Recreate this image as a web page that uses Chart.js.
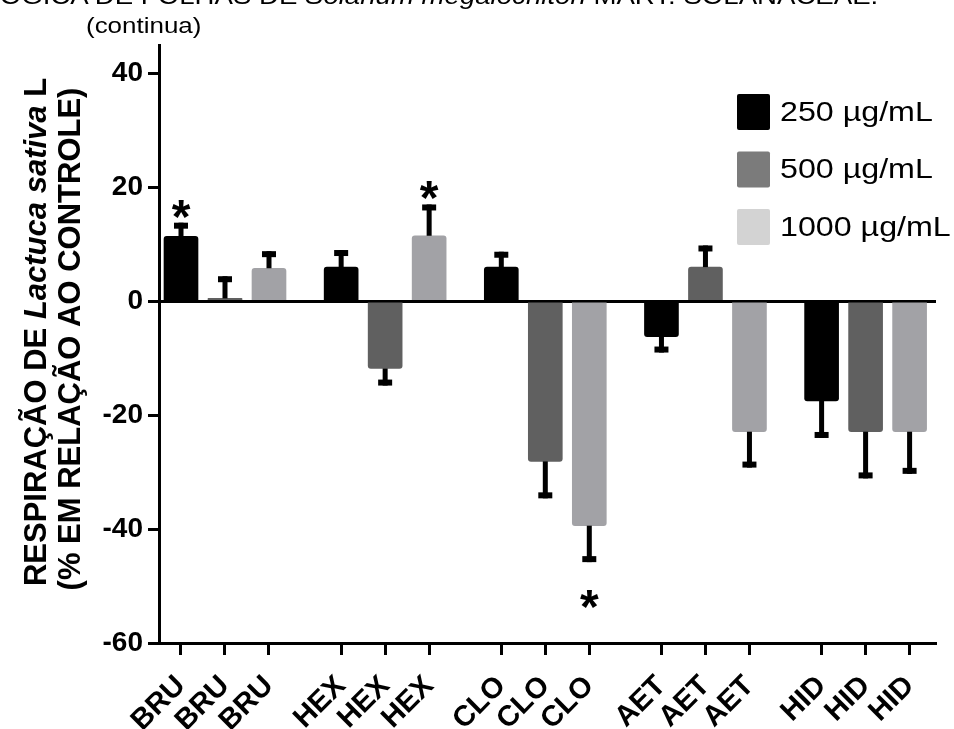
<!DOCTYPE html>
<html>
<head>
<meta charset="utf-8">
<script src="https://cdn.jsdelivr.net/npm/chart.js@4.4.1/dist/chart.umd.min.js"></script>
<style>
  body { margin: 0; background: #fff; overflow: hidden; }
  #wrap { position: relative; width: 954px; height: 729px; }
  .txt { position: absolute; font-family: "Liberation Sans", Arial, sans-serif; color: #000; white-space: nowrap; line-height: 1; }
  #top1 { right: 76px; top: -16px; font-size: 24px; transform: scaleX(1.15); transform-origin: right top; }
  #top2 { left: 86px; top: 15px; font-size: 22px; transform: scaleX(1.18); transform-origin: left top; }
</style>
</head>
<body>
<div id="wrap">
  <canvas id="myChart"></canvas>
  <div class="txt" id="top1">LÓGICA DE FOLHAS DE <i>Solanum megalochiton</i> MART. SOLANACEAE.</div>
  <div class="txt" id="top2">(continua)</div>
</div>
<script>
// data
const groups = ['BRU', 'HEX', 'CLO', 'AET', 'HID'];
const seriesLabels = ['250 µg/mL', '500 µg/mL', '1000 µg/mL'];
const v250 = [11.4, 6.0, 6.0, -6.2, -17.5];
const v500 = [0.5, -11.8, -28.1, 6.0, -22.9];
const v1000 = [5.8, 11.5, -39.4, -22.9, -22.9];
const e250 = [2.4, 3.0, 2.7, 2.8, 6.5];
const e500 = [3.9, 3.0, 6.5, 3.8, 8.2];
const e1000 = [3.0, 5.5, 6.4, 6.3, 7.4];
const yTicks = [-60, -40, -20, 0, 20, 40];
// [series index, group index] of the bars marked with *
const sigMarks = [[0, 0], [2, 1], [2, 2]];

const barColors = ['#000000', '#606060', '#a2a2a6'];
const legendColors = ['#000000', '#7b7b7b', '#d3d3d3'];
const groupStep = 3.64;

const values = [v250, v500, v1000];
const errors = [e250, e500, e1000];
const tickPos = [];
const tickLabels = [];
groups.forEach((g, gi) => {
    for (let k = 0; k < 3; k++) {
        tickPos.push(gi * groupStep + k);
        tickLabels.push(g);
    }
});

const FONT = '"Liberation Sans", Arial, sans-serif';

const errorBars = {
    id: 'errorBars',
    afterDatasetsDraw(chart) {
        const ctx = chart.ctx;
        const y = chart.scales.y;
        ctx.save();
        ctx.fillStyle = '#000';
        values.forEach((vals, si) => {
            const meta = chart.getDatasetMeta(si);
            meta.data.forEach((bar, gi) => {
                const v = vals[gi];
                const end = v >= 0 ? v + errors[si][gi] : v - errors[si][gi];
                const yb = y.getPixelForValue(v);
                const ye = y.getPixelForValue(end);
                const x = bar.x;
                ctx.fillRect(x - 2.5, Math.min(yb, ye), 5, Math.abs(yb - ye));
                if (v >= 0) ctx.fillRect(x - 7, ye, 14, 6);
                else ctx.fillRect(x - 7, ye - 6, 14, 6);
            });
        });
        ctx.font = 'bold 48px ' + FONT;
        ctx.textAlign = 'center';
        ctx.textBaseline = 'alphabetic';
        sigMarks.forEach(([si, gi]) => {
            const bar = chart.getDatasetMeta(si).data[gi];
            const v = values[si][gi];
            const end = v >= 0 ? v + errors[si][gi] : v - errors[si][gi];
            const ye = y.getPixelForValue(end);
            const cy = v >= 0 ? ye - 18 : ye + 33;
            ctx.fillText('*', bar.x, cy + 28);
        });
        ctx.restore();
    }
};

const sideLegend = {
    id: 'sideLegend',
    afterDraw(chart) {
        const ctx = chart.ctx;
        ctx.save();
        chart.data.datasets.forEach((ds, i) => {
            const cy = 112 + i * 57.5;
            ctx.fillStyle = legendColors[i];
            ctx.beginPath();
            ctx.roundRect(737, cy - 18, 33, 36, 2);
            ctx.fill();
            ctx.fillStyle = '#000';
            ctx.font = '28px ' + FONT;
            ctx.textBaseline = 'middle';
            ctx.translate(780, cy);
            ctx.scale(1.15, 1);
            ctx.fillText(ds.label, 0, 1);
            ctx.setTransform(1, 0, 0, 1, 0, 0);
        });
        ctx.restore();
    }
};

const yTitle = {
    id: 'yTitle',
    afterDraw(chart) {
        const ctx = chart.ctx;
        const lines = [
            { x: 46, cy: 332, parts: [['RESPIRAÇÃO DE ', 'bold'], ['Lactuca sativa', 'italic bold'], [' L', 'bold']] },
            { x: 80, cy: 339, parts: [['(% EM RELAÇÃO AO CONTROLE)', 'bold']] }
        ];
        ctx.save();
        ctx.fillStyle = '#000';
        ctx.textBaseline = 'alphabetic';
        ctx.textAlign = 'left';
        lines.forEach(line => {
            let total = 0;
            line.parts.forEach(p => {
                ctx.font = p[1] + ' 31px ' + FONT;
                total += ctx.measureText(p[0]).width;
            });
            ctx.save();
            ctx.translate(line.x, line.cy);
            ctx.rotate(-Math.PI / 2);
            let cx = -total / 2;
            line.parts.forEach(p => {
                ctx.font = p[1] + ' 31px ' + FONT;
                ctx.fillText(p[0], cx, 0);
                cx += ctx.measureText(p[0]).width;
            });
            ctx.restore();
        });
        ctx.restore();
    }
};

const ctx = document.getElementById('myChart').getContext('2d');
const chart = new Chart(ctx, {
    type: 'bar',
    data: {
        datasets: values.map((vals, si) => ({
            label: seriesLabels[si],
            data: vals.map((v, gi) => ({ x: gi * groupStep + si, y: v })),
            backgroundColor: barColors[si],
            borderRadius: 3,
            borderSkipped: 'start',
            barThickness: 34,
            grouped: false
        }))
    },
    options: {
        responsive: true,
        maintainAspectRatio: false,
        animation: false,
        layout: { padding: { top: 45, right: 18, left: 0, bottom: 0 } },
        plugins: {
            legend: { display: false },
            tooltip: { enabled: false }
        },
        scales: {
            x: {
                type: 'linear',
                offset: false,
                min: -0.5,
                max: 17.16,
                afterBuildTicks: s => { s.ticks = tickPos.map(v => ({ value: v })); },
                afterFit: s => { s.height = 86; },
                ticks: {
                    autoSkip: false,
                    minRotation: 45,
                    maxRotation: 45,
                    padding: 14,
                    color: '#000',
                    font: { family: FONT, size: 29, weight: 'bold' },
                    callback: (v, i) => tickLabels[i]
                },
                grid: { drawOnChartArea: false, drawTicks: true, tickLength: 12, tickWidth: 3, tickColor: '#000', offset: false },
                border: { color: '#000', width: 3 }
            },
            y: {
                min: -60,
                max: 45,
                z: 1,
                afterBuildTicks: s => { s.ticks = yTicks.map(v => ({ value: v })); },
                afterFit: s => { s.width = 159; },
                ticks: {
                    padding: 5,
                    color: '#000',
                    font: { family: FONT, size: 28, weight: 'bold' }
                },
                grid: {
                    color: c => (c.tick && c.tick.value === 0 ? '#000' : 'rgba(0,0,0,0)'),
                    lineWidth: 3,
                    tickLength: 11,
                    tickWidth: 3,
                    tickColor: '#000'
                },
                border: { color: '#000', width: 3 }
            }
        }
    },
    plugins: [errorBars, sideLegend, yTitle]
});
</script>
</body>
</html>
